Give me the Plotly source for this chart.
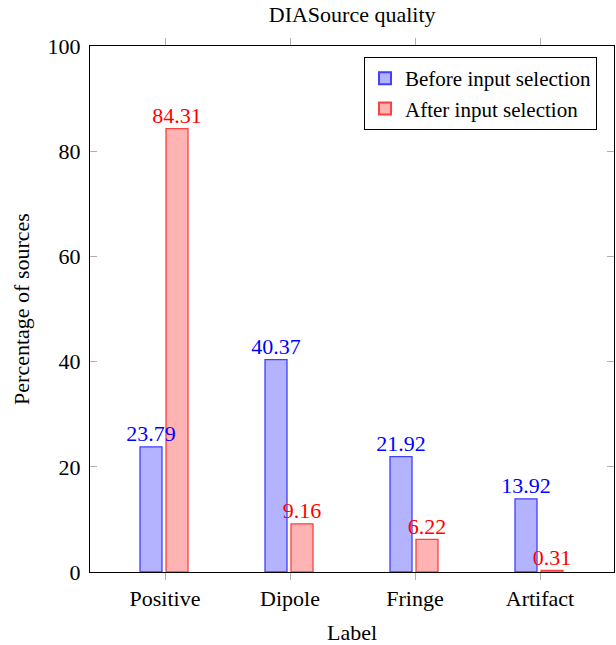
import plotly.graph_objects as go

categories = ["Positive", "Dipole", "Fringe", "Artifact"]
before = [23.79, 40.37, 21.92, 13.92]
after = [84.31, 9.16, 6.22, 0.31]
y_ticks = [0, 20, 40, 60, 80, 100]

FONT = "Liberation Serif"
FS = 22
BAR_W = 0.176
OFF_BEFORE = -0.2
OFF_AFTER = 0.008

idx = list(range(len(categories)))

fig = go.Figure()
fig.add_trace(go.Bar(
    x=idx, y=before, name="Before input selection",
    width=BAR_W, offset=OFF_BEFORE,
    marker=dict(color="#b3b3ff", line=dict(color="#4040ff", width=1.3)),
))
fig.add_trace(go.Bar(
    x=idx, y=after, name="After input selection",
    width=BAR_W, offset=OFF_AFTER,
    marker=dict(color="#ffb3b3", line=dict(color="#ff4040", width=1.3)),
))
# value labels drawn on top of all bars
fig.add_trace(go.Scatter(
    x=[i + OFF_BEFORE + BAR_W / 2 for i in idx], y=before, mode="text",
    text=[f"{v:.2f}" for v in before], textposition="top center",
    textfont=dict(color="#0000ff", size=FS, family=FONT),
    showlegend=False, hoverinfo="skip", cliponaxis=False,
))
fig.add_trace(go.Scatter(
    x=[i + OFF_AFTER + BAR_W / 2 for i in idx], y=after, mode="text",
    text=[f"{v:.2f}" for v in after], textposition="top center",
    textfont=dict(color="#ff0000", size=FS, family=FONT),
    showlegend=False, hoverinfo="skip", cliponaxis=False,
))

fig.update_layout(
    width=616, height=645, autosize=False,
    margin=dict(l=90, r=2, t=46, b=73, autoexpand=False),
    paper_bgcolor="white", plot_bgcolor="white",
    font=dict(family=FONT, size=FS, color="black"),
    barmode="overlay",
    title=dict(text="DIASource quality", x=0.5717, xanchor="center",
               y=0.99, yanchor="top", font=dict(size=FS, family=FONT)),
    showlegend=True,
    legend=dict(x=0.9676, xanchor="right", y=0.979, yanchor="top",
                bordercolor="black", borderwidth=1, bgcolor="white",
                font=dict(size=21, family=FONT), tracegroupgap=0,
                itemsizing="constant"),
)
fig.update_xaxes(
    range=[-0.6, 3.592], tickvals=idx, ticktext=categories,
    showline=True, linecolor="black", linewidth=1,
    mirror="ticks", ticks="outside", ticklen=7, tickcolor="#b0b0b0",
    showgrid=False, zeroline=False, automargin=False,
    title=dict(text="Label", font=dict(size=FS, family=FONT), standoff=15),
    tickfont=dict(size=FS, family=FONT),
)
fig.update_yaxes(
    range=[0, 100], tickvals=y_ticks, showline=True, linecolor="black", linewidth=1,
    mirror="ticks", ticks="inside", ticklen=7, tickcolor="#b0b0b0",
    showgrid=False, zeroline=False, automargin=False, ticklabelstandoff=4,
    title=dict(text="Percentage of sources", font=dict(size=FS, family=FONT), standoff=11),
    tickfont=dict(size=FS, family=FONT),
)

fig.write_html(
    "out.html",
    config={"responsive": False, "displayModeBar": False},
    post_script="document.body.style.margin='0';document.body.style.overflow='hidden';",
)
